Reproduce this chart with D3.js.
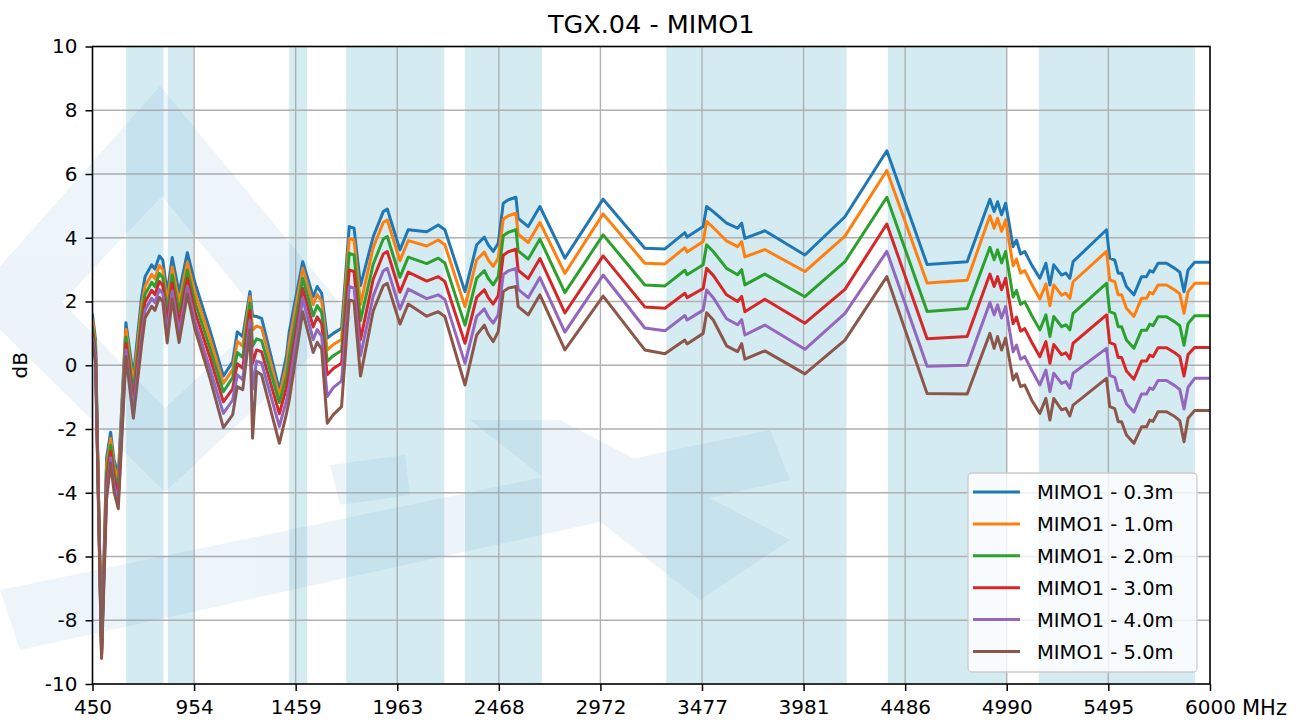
<!DOCTYPE html>
<html>
<head>
<meta charset="utf-8">
<script src="https://cdn.jsdelivr.net/npm/d3@7"></script>
<style>
  body { margin: 0; background: #fff; }
  svg { display: block; }
  text { font-family: "DejaVu Sans", sans-serif; fill: #000; }
</style>
</head>
<body>
<svg id="chart" width="1307" height="722"></svg>
<script>
// Frequency points (MHz), shared by every measurement series
const freqMHz = [
  450, 465, 495, 520, 540, 557, 578, 616, 653, 694,
  711, 744, 760, 782, 799, 821, 846, 880, 921, 959,
  1033, 1100, 1146, 1169, 1196, 1232, 1245, 1265, 1290, 1378,
  1414, 1427, 1494, 1546, 1566, 1588, 1616, 1646, 1687, 1725,
  1749, 1781, 1844, 1894, 1914, 1977, 1997, 2018, 2110, 2167,
  2200, 2300, 2358, 2396, 2415, 2440, 2465, 2490, 2515, 2553,
  2564, 2614, 2672, 2796, 2986, 3193, 3293, 3392, 3403, 3483,
  3500, 3533, 3599, 3654, 3674, 3690, 3789, 3988, 4187, 4395,
  4595, 4794, 4907, 4928, 4945, 4965, 4985, 5022, 5039, 5059,
  5080, 5114, 5155, 5185, 5205, 5224, 5263, 5284, 5304, 5320,
  5486, 5502, 5527, 5544, 5561, 5585, 5622, 5660, 5685, 5701,
  5717, 5742, 5784, 5825, 5850, 5871, 5891, 5924, 6000
];

// Gain (dB) per cable length
const mimo1_03m = [
  1.58, 0.8, -8.9, -2.9, -2.1, -2.97, -3.45, 1.33, -0.36, 2.15,
  2.78, 3.15, 3.02, 3.43, 3.3, 2.26, 3.38, 2.27, 3.53, 2.58,
  1.1, -0.34, 0.11, 1.05, 0.9, 2.31, 1.55, 1.53, 1.47, -0.77,
  0.32, 1.05, 3.25, 2.15, 2.47, 2.26, 0.85, 1.0, 1.16, 4.35,
  4.3, 2.5, 4.03, 4.82, 4.9, 3.62, 3.93, 4.25, 4.19, 4.4,
  4.25, 2.31, 3.78, 4.02, 3.78, 3.57, 3.83, 5.08, 5.19, 5.27,
  4.61, 4.35, 4.98, 3.36, 5.21, 3.67, 3.65, 4.16, 4.02, 4.35,
  4.98, 4.82, 4.46, 4.3, 4.46, 3.98, 4.22, 3.46, 4.66, 6.73,
  3.16, 3.25, 5.21, 4.82, 5.13, 4.72, 5.08, 3.72, 3.93, 3.49,
  3.57, 3.15, 2.73, 3.2, 2.52, 3.15, 2.83, 2.89, 2.73, 3.25,
  4.25, 3.36, 3.3, 2.89, 2.89, 2.47, 2.21, 2.78, 2.78, 2.97,
  2.92, 3.2, 3.2, 3.04, 2.92, 2.31, 2.99, 3.23, 3.23
];
const mimo1_10m = [
  1.43, 0.65, -8.95, -3.15, -2.3, -3.17, -3.65, 1.13, -0.61, 1.85,
  2.48, 2.85, 2.72, 3.13, 3.0, 1.96, 3.08, 1.97, 3.23, 2.28,
  0.85, -0.57, -0.14, 0.75, 0.6, 2.16, 1.1, 1.23, 1.17, -0.97,
  0.02, 0.7, 3.04, 1.9, 2.22, 2.01, 0.48, 0.65, 0.81, 3.98,
  3.93, 1.9, 3.69, 4.48, 4.56, 3.28, 3.59, 3.91, 3.74, 3.93,
  3.78, 1.84, 3.31, 3.55, 3.31, 3.1, 3.36, 4.58, 4.69, 4.77,
  4.11, 3.85, 4.48, 2.88, 4.75, 3.2, 3.18, 3.69, 3.55, 3.88,
  4.51, 4.32, 3.9, 3.72, 3.88, 3.4, 3.63, 2.94, 4.05, 6.11,
  2.58, 2.67, 4.69, 4.3, 4.61, 4.2, 4.56, 3.12, 3.33, 2.89,
  2.97, 2.55, 2.08, 2.55, 1.87, 2.52, 2.2, 2.26, 2.1, 2.62,
  3.57, 2.68, 2.62, 2.21, 2.21, 1.79, 1.53, 2.1, 2.1, 2.29,
  2.24, 2.52, 2.52, 2.36, 2.24, 1.63, 2.31, 2.57, 2.57
];
const mimo1_20m = [
  1.18, 0.5, -9.0, -3.4, -2.5, -3.37, -3.9, 0.88, -0.86, 1.55,
  2.23, 2.6, 2.47, 2.88, 2.75, 1.66, 2.83, 1.67, 2.98, 1.98,
  0.55, -0.83, -0.39, 0.4, 0.25, 1.96, 0.6, 0.83, 0.77, -1.17,
  -0.33, 0.25, 2.73, 1.55, 1.87, 1.66, 0.12, 0.3, 0.46, 3.51,
  3.46, 1.4, 3.17, 3.96, 4.04, 2.76, 3.07, 3.39, 3.19, 3.36,
  3.21, 1.26, 2.73, 2.97, 2.73, 2.52, 2.78, 4.06, 4.17, 4.25,
  3.59, 3.33, 3.96, 2.28, 4.09, 2.52, 2.49, 2.98, 2.84, 3.15,
  3.78, 3.57, 3.04, 2.84, 3.0, 2.52, 2.86, 2.15, 3.25, 5.27,
  1.69, 1.78, 3.7, 3.31, 3.62, 3.21, 3.57, 2.14, 2.35, 1.91,
  1.99, 1.57, 1.11, 1.58, 0.9, 1.53, 1.21, 1.27, 1.11, 1.63,
  2.57, 1.68, 1.62, 1.21, 1.21, 0.79, 0.53, 1.1, 1.1, 1.29,
  1.24, 1.52, 1.52, 1.36, 1.24, 0.63, 1.31, 1.55, 1.55
];
const mimo1_30m = [
  0.98, 0.35, -9.05, -3.65, -2.7, -3.57, -4.1, 0.68, -1.16, 1.25,
  1.98, 2.35, 2.22, 2.63, 2.5, 1.31, 2.58, 1.32, 2.73, 1.68,
  0.25, -1.15, -0.74, 0.05, -0.1, 1.71, 0.05, 0.48, 0.42, -1.52,
  -0.68, -0.2, 2.41, 1.2, 1.52, 1.31, -0.3, -0.1, 0.06, 2.99,
  2.94, 0.8, 2.7, 3.49, 3.57, 2.29, 2.6, 2.92, 2.64, 2.78,
  2.63, 0.69, 2.13, 2.37, 2.13, 1.92, 2.18, 3.45, 3.56, 3.64,
  2.98, 2.72, 3.35, 1.64, 3.43, 1.83, 1.79, 2.26, 2.12, 2.41,
  3.04, 2.82, 2.21, 2.0, 2.16, 1.68, 2.07, 1.32, 2.38, 4.43,
  0.83, 0.9, 2.86, 2.47, 2.78, 2.37, 2.73, 1.3, 1.51, 1.07,
  1.15, 0.73, 0.27, 0.74, 0.06, 0.65, 0.33, 0.39, 0.2, 0.69,
  1.58, 0.71, 0.65, 0.24, 0.24, -0.18, -0.44, 0.13, 0.13, 0.32,
  0.27, 0.55, 0.55, 0.39, 0.27, -0.34, 0.34, 0.56, 0.56
];
const mimo1_40m = [
  0.83, 0.25, -9.1, -3.9, -2.9, -3.77, -4.3, 0.48, -1.41, 0.95,
  1.73, 2.1, 1.97, 2.38, 2.25, 1.01, 2.33, 1.02, 2.48, 1.38,
  -0.1, -1.51, -1.09, -0.3, -0.45, 1.41, -0.75, 0.13, 0.07, -1.92,
  -1.08, -0.65, 2.1, 0.8, 1.12, 0.91, -0.98, -0.7, -0.49, 2.47,
  2.42, 0.3, 2.17, 2.96, 3.04, 1.76, 2.07, 2.39, 2.09, 2.21,
  2.06, 0.06, 1.53, 1.77, 1.53, 1.32, 1.58, 2.85, 2.96, 3.04,
  2.38, 2.12, 2.75, 1.04, 2.83, 1.17, 1.08, 1.56, 1.42, 1.73,
  2.36, 2.12, 1.46, 1.27, 1.43, 0.95, 1.26, 0.5, 1.63, 3.57,
  -0.03, 0.0, 1.97, 1.58, 1.89, 1.48, 1.84, 0.42, 0.63, 0.19,
  0.27, -0.15, -0.62, -0.15, -0.83, -0.25, -0.57, -0.51, -0.72, -0.25,
  0.53, -0.32, -0.38, -0.79, -0.79, -1.21, -1.47, -0.9, -0.9, -0.71,
  -0.76, -0.48, -0.48, -0.64, -0.76, -1.37, -0.69, -0.41, -0.41
];
const mimo1_50m = [
  0.68, 0.1, -9.2, -4.2, -3.07, -3.97, -4.5, 0.27, -1.66, 0.65,
  1.48, 1.85, 1.72, 2.13, 2.0, 0.7, 2.08, 0.71, 2.23, 1.13,
  -0.4, -1.96, -1.56, -0.67, -0.77, 1.11, -2.29, -0.2, -0.3, -2.45,
  -1.5, -1.1, 1.68, 0.4, 0.72, 0.51, -1.82, -1.55, -1.3, 2.05,
  2.0, -0.34, 1.7, 2.49, 2.57, 1.29, 1.6, 1.92, 1.54, 1.68,
  1.53, -0.62, 0.95, 1.26, 0.98, 0.74, 1.05, 2.31, 2.42, 2.47,
  1.84, 1.58, 2.21, 0.48, 2.17, 0.48, 0.36, 0.79, 0.67, 1.0,
  1.65, 1.42, 0.61, 0.43, 0.68, 0.19, 0.45, -0.27, 0.79, 2.78,
  -0.89, -0.9, 1.0, 0.53, 0.9, 0.48, 0.85, -0.46, -0.27, -0.67,
  -0.62, -1.09, -1.51, -1.04, -1.72, -1.04, -1.4, -1.35, -1.59, -1.25,
  -0.41, -1.3, -1.36, -1.77, -1.77, -2.19, -2.45, -1.93, -1.93, -1.72,
  -1.76, -1.46, -1.46, -1.61, -1.74, -2.4, -1.66, -1.42, -1.42
];

const seriesNames = ["MIMO1 - 0.3m", "MIMO1 - 1.0m", "MIMO1 - 2.0m",
                     "MIMO1 - 3.0m", "MIMO1 - 4.0m", "MIMO1 - 5.0m"];
const seriesValues = [mimo1_03m, mimo1_10m, mimo1_20m, mimo1_30m, mimo1_40m, mimo1_50m];
const seriesColors = ["#1f77b4", "#ff7f0e", "#2ca02c", "#d62728", "#9467bd", "#8c564b"];

// Operating bands highlighted behind the curves (MHz)
const bandRanges = [
  [617, 803], [824, 951], [1427, 1516], [1710, 2197],
  [2300, 2682], [3300, 4195], [4400, 4990], [5150, 5925]
];

const xTickValues = [450, 954.5, 1459, 1963.5, 2468, 2972.5, 3477, 3981.5, 4486, 4990.5, 5495, 6000];
const xTickLabels = ["450", "954", "1459", "1963", "2468", "2972", "3477", "3981", "4486", "4990", "5495", "6000"];
const yTickValues = [-10, -8, -6, -4, -2, 0, 2, 4, 6, 8, 10];

const chartTitle = "TGX.04 - MIMO1";
const xUnit = "MHz";
const yLabel = "dB";

// ---- layout ----
const plot = { left: 92.5, right: 1210, top: 46.5, bottom: 684 };
const svg = d3.select("#chart");

const x = d3.scaleLinear().domain([450, 6000]).range([plot.left, plot.right]);
const y = d3.scaleLinear().domain([-10, 10]).range([plot.bottom, plot.top]);

svg.append("defs").append("clipPath").attr("id", "plotClip")
  .append("rect")
  .attr("x", plot.left).attr("y", plot.top)
  .attr("width", plot.right - plot.left).attr("height", plot.bottom - plot.top);

// band shading
svg.append("g").selectAll("rect").data(bandRanges).join("rect")
  .attr("x", d => x(d[0]))
  .attr("y", plot.top)
  .attr("width", d => x(d[1]) - x(d[0]))
  .attr("height", plot.bottom - plot.top)
  .attr("fill", "#add8e6")
  .attr("fill-opacity", 0.52);

// grid
const grid = svg.append("g").attr("stroke", "#b0b0b0").attr("stroke-width", 1.4);
grid.selectAll("line.vx").data(xTickValues).join("line").attr("class", "vx")
  .attr("x1", d => x(d)).attr("x2", d => x(d))
  .attr("y1", plot.top).attr("y2", plot.bottom);
grid.selectAll("line.hy").data(yTickValues).join("line").attr("class", "hy")
  .attr("x1", plot.left).attr("x2", plot.right)
  .attr("y1", d => y(d)).attr("y2", d => y(d));

// curves
const line = d3.line()
  .defined(d => d[1] != null)
  .x(d => x(d[0]))
  .y(d => y(d[1]));

svg.append("g").attr("clip-path", "url(#plotClip)")
  .selectAll("path").data(seriesValues).join("path")
  .attr("d", vals => line(freqMHz.map((f, i) => [f, vals[i]])))
  .attr("fill", "none")
  .attr("stroke", (d, i) => seriesColors[i])
  .attr("stroke-width", 3)
  .attr("stroke-linejoin", "round")
  .attr("stroke-linecap", "square");

// axes
const xAxis = d3.axisBottom(x)
  .tickValues(xTickValues)
  .tickFormat((d, i) => xTickLabels[i])
  .tickSize(7).tickPadding(9).tickSizeOuter(0);
const gx = svg.append("g").attr("transform", `translate(0,${plot.bottom})`).call(xAxis);

const yAxis = d3.axisLeft(y)
  .tickValues(yTickValues)
  .tickFormat(d => d3.format("d")(d))
  .tickSize(7).tickPadding(8).tickSizeOuter(0);
const gy = svg.append("g").attr("transform", `translate(${plot.left},0)`).call(yAxis);

[gx, gy].forEach(g => {
  g.select(".domain").remove();
  g.selectAll(".tick line").attr("stroke", "#000").attr("stroke-width", 1.5);
  g.selectAll(".tick text")
    .attr("font-family", "DejaVu Sans, sans-serif")
    .attr("font-size", 20).attr("fill", "#000");
});
gy.selectAll(".tick text").text(d => (d < 0 ? "-" + Math.abs(d) : String(d)));

// spines
svg.append("rect")
  .attr("x", plot.left).attr("y", plot.top)
  .attr("width", plot.right - plot.left).attr("height", plot.bottom - plot.top)
  .attr("fill", "none").attr("stroke", "#000").attr("stroke-width", 1.5);

// labels
svg.append("text")
  .attr("x", (plot.left + plot.right) / 2).attr("y", 33)
  .attr("text-anchor", "middle")
  .attr("font-size", 25.5)
  .text(chartTitle);

svg.append("text")
  .attr("x", x(6000) + 32).attr("y", plot.bottom + 30.5)
  .attr("font-size", 21)
  .text(xUnit);

svg.append("text")
  .attr("transform", `translate(27,${(plot.top + plot.bottom) / 2}) rotate(-90)`)
  .attr("text-anchor", "middle")
  .attr("font-size", 20)
  .text(yLabel);

// legend
const legend = svg.append("g").attr("transform", "translate(968,473)");
legend.append("rect")
  .attr("width", 229).attr("height", 199).attr("rx", 4)
  .attr("fill", "#fff").attr("fill-opacity", 0.8)
  .attr("stroke", "#cccccc").attr("stroke-width", 1.3);
const rows = legend.selectAll("g.row").data(seriesNames).join("g").attr("class", "row")
  .attr("transform", (d, i) => `translate(0,${19 + i * 31.9})`);
rows.append("line")
  .attr("x1", 5).attr("x2", 52)
  .attr("stroke", (d, i) => seriesColors[i]).attr("stroke-width", 3);
rows.append("text")
  .attr("x", 69).attr("dy", "0.36em")
  .attr("font-size", 19.5)
  .text(d => d);

// faint brand watermark printed across the sheet
const mark = svg.append("g")
  .attr("pointer-events", "none")
  .attr("fill", "#3f8fc6").attr("opacity", 0.09);
mark.append("path")
  .attr("fill-rule", "evenodd")
  .attr("d", "M160,86 L352,318 L165,492 L-30,300 Z M162,196 L262,318 L165,408 L62,302 Z");
mark.append("path")
  .attr("d", "M0,590 L770,430 L790,480 L20,650 Z");
mark.append("path")
  .attr("d", "M330,465 L405,455 L410,495 L340,505 Z");
mark.append("path")
  .attr("d", "M470,420 L560,420 L790,540 L700,600 Z");
</script>
</body>
</html>
